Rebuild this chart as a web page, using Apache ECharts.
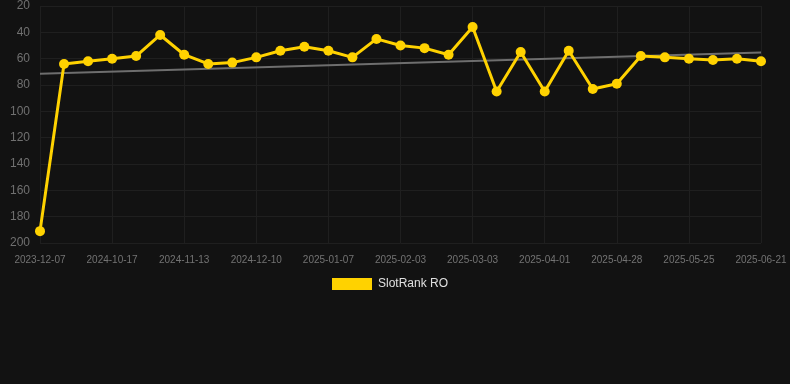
<!DOCTYPE html>
<html>
<head>
<meta charset="utf-8">
<script src="https://cdn.jsdelivr.net/npm/echarts@6/dist/echarts.min.js"></script>
<style>
  html, body { margin: 0; padding: 0; background: #121212; }
  #chart { width: 790px; height: 384px; }
</style>
</head>
<body>
<div id="chart"></div>
<script>
var dates = ['2023-12-07', '2024-09-29', '2024-10-08',
  '2024-10-17', '2024-10-26', '2024-11-04',
  '2024-11-13', '2024-11-22', '2024-12-01',
  '2024-12-10', '2024-12-19', '2024-12-28',
  '2025-01-07', '2025-01-16', '2025-01-25',
  '2025-02-03', '2025-02-12', '2025-02-21',
  '2025-03-03', '2025-03-13', '2025-03-22',
  '2025-04-01', '2025-04-10', '2025-04-19',
  '2025-04-28', '2025-05-07', '2025-05-16',
  '2025-05-25', '2025-06-03', '2025-06-12',
  '2025-06-21'];
var ranks = [191, 64, 62, 60, 58, 42, 57, 64, 63, 59, 54, 51, 54, 59, 45, 50,
  52, 57, 36, 85, 55, 85, 54, 83, 79, 58, 59, 60, 61, 60, 62];
var trendEnds = [71.4, 55.4];

var trend = dates.map(function (d, i) {
  if (i === 0) return trendEnds[0];
  if (i === dates.length - 1) return trendEnds[1];
  return null;
});

var myChart = echarts.init(document.getElementById('chart'));
myChart.setOption({
  backgroundColor: '#121212',
  animation: false,
  grid: { left: 40, right: 29, top: 6, bottom: 141 },
  legend: {
    top: 278,
    left: 332,
    icon: 'rect',
    itemWidth: 40,
    itemHeight: 12,
    itemGap: 10,
    padding: 0,
    data: ['SlotRank RO'],
    textStyle: { color: '#e0e0e0', fontSize: 12, padding: [0, 0, 0, 1], fontFamily: 'Liberation Sans, Arial' }
  },
  xAxis: {
    type: 'category',
    boundaryGap: false,
    data: dates,
    axisLine: { show: false },
    axisTick: { show: false },
    axisLabel: { interval: 2, color: '#737373', fontSize: 10, margin: 12, fontFamily: 'Liberation Sans, Arial' },
    splitLine: { show: true, interval: 2, lineStyle: { color: '#1f1f1f', width: 1 } }
  },
  yAxis: {
    type: 'value',
    inverse: true,
    min: 20,
    max: 200,
    interval: 20,
    axisLine: { show: false },
    axisTick: { show: false },
    axisLabel: { color: '#707070', fontSize: 12, margin: 10, fontFamily: 'Liberation Sans, Arial' },
    splitLine: { lineStyle: { color: '#1f1f1f', width: 1 } }
  },
  series: [
    {
      name: 'SlotRank RO',
      type: 'line',
      data: ranks,
      symbol: 'circle',
      symbolSize: 10,
      color: '#ffd200',
      lineStyle: { width: 3, color: '#ffd200' },
      itemStyle: { color: '#ffd200' },
      z: 3
    },
    {
      name: 'trend',
      type: 'line',
      data: trend,
      connectNulls: true,
      symbol: 'none',
      lineStyle: { width: 2, color: '#6e6e6e' },
      z: 2
    }
  ]
});
</script>
</body>
</html>
